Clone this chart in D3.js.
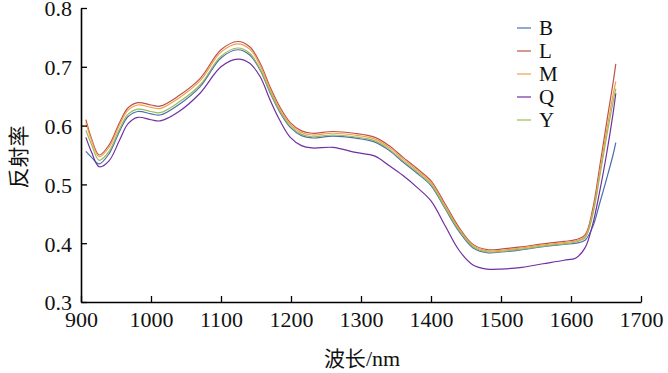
<!DOCTYPE html>
<html><head><meta charset="utf-8">
<script src="https://cdn.jsdelivr.net/npm/d3@7"></script>
<style>
html,body{margin:0;padding:0;background:#fff;}
svg{display:block;}
</style>
</head><body>
<svg id="chart" width="668" height="373"></svg>
<script>
const wavelengths = [907, 915, 926, 940, 955, 967, 981, 1000, 1013, 1040, 1070, 1100, 1124, 1141, 1156, 1170, 1184, 1199, 1215, 1230, 1260, 1290, 1320, 1340, 1360, 1380, 1400, 1420, 1440, 1460, 1480, 1500, 1530, 1560, 1590, 1607, 1620, 1631, 1641, 1651, 1660, 1664];
const seriesNames = ["B", "L", "M", "Q", "Y"];
const seriesColors = ["#4a6fb0", "#bb5249", "#f2a04e", "#7030a0", "#9bbb59"];
const valuesL = [0.610, 0.578, 0.550, 0.567, 0.605, 0.630, 0.639, 0.635, 0.633, 0.651, 0.680, 0.729, 0.743, 0.734, 0.706, 0.666, 0.632, 0.605, 0.591, 0.587, 0.590, 0.587, 0.580, 0.566, 0.546, 0.527, 0.506, 0.467, 0.427, 0.398, 0.389, 0.390, 0.394, 0.399, 0.403, 0.406, 0.414, 0.458, 0.530, 0.606, 0.672, 0.705];
const valuesM = [0.605, 0.575, 0.547, 0.563, 0.601, 0.626, 0.635, 0.631, 0.629, 0.647, 0.676, 0.725, 0.739, 0.730, 0.702, 0.662, 0.628, 0.602, 0.588, 0.584, 0.587, 0.584, 0.577, 0.563, 0.543, 0.524, 0.503, 0.464, 0.424, 0.396, 0.387, 0.388, 0.392, 0.397, 0.401, 0.404, 0.411, 0.452, 0.520, 0.592, 0.652, 0.675];
const valuesY = [0.592, 0.568, 0.541, 0.556, 0.594, 0.619, 0.628, 0.624, 0.622, 0.640, 0.669, 0.718, 0.732, 0.723, 0.696, 0.658, 0.625, 0.599, 0.585, 0.581, 0.584, 0.581, 0.574, 0.560, 0.540, 0.521, 0.500, 0.461, 0.422, 0.394, 0.385, 0.386, 0.390, 0.395, 0.399, 0.402, 0.409, 0.448, 0.513, 0.582, 0.640, 0.663];
const valuesB = [0.556, 0.546, 0.535, 0.552, 0.590, 0.615, 0.624, 0.620, 0.618, 0.636, 0.666, 0.715, 0.729, 0.720, 0.694, 0.656, 0.623, 0.597, 0.583, 0.579, 0.582, 0.579, 0.572, 0.558, 0.538, 0.519, 0.498, 0.459, 0.420, 0.392, 0.384, 0.385, 0.389, 0.394, 0.398, 0.400, 0.405, 0.428, 0.468, 0.510, 0.550, 0.571];
const valuesQ = [0.580, 0.555, 0.530, 0.540, 0.575, 0.603, 0.614, 0.610, 0.608, 0.624, 0.655, 0.700, 0.713, 0.706, 0.683, 0.644, 0.609, 0.580, 0.566, 0.562, 0.563, 0.555, 0.548, 0.532, 0.515, 0.495, 0.472, 0.430, 0.388, 0.363, 0.356, 0.356, 0.359, 0.365, 0.371, 0.375, 0.392, 0.432, 0.488, 0.553, 0.620, 0.655];
const xTicks = [900, 1000, 1100, 1200, 1300, 1400, 1500, 1600, 1700];
const yTicks = [0.3, 0.4, 0.5, 0.6, 0.7, 0.8];
const xTitleCJK = "波长";
const xTitleUnit = "/nm";
const yTitle = "反射率";

const seriesValues = {B: valuesB, L: valuesL, M: valuesM, Q: valuesQ, Y: valuesY};

const svg = d3.select("#chart");
const x = d3.scaleLinear().domain([900, 1700]).range([81, 641]);
const y = d3.scaleLinear().domain([0.3, 0.8]).range([302, 8]);
const serif = "'Liberation Serif','Times New Roman',serif";
const cjk = "'Noto Sans CJK SC', sans-serif";

const line = d3.line().x(d => x(d[0])).y(d => y(d[1])).curve(d3.curveCatmullRom.alpha(0.5));

seriesNames.forEach((name, i) => {
  const data = wavelengths.map((w, j) => [w, seriesValues[name][j]]);
  svg.append("path").datum(data)
    .attr("fill", "none").attr("stroke", seriesColors[i]).attr("stroke-width", 1.2)
    .attr("d", line);
});

// axes
const xAxis = d3.axisBottom(x).tickValues(xTicks).tickSizeInner(-6).tickSizeOuter(0).tickPadding(12).tickFormat(d3.format("d"));
const gx = svg.append("g").attr("transform", "translate(0,302)").call(xAxis);
gx.select(".domain").attr("stroke", "#000").attr("stroke-width", 1.6);
gx.selectAll(".tick line").attr("stroke", "#000").attr("stroke-width", 1.3);
gx.selectAll(".tick text").attr("font-family", serif).attr("font-size", 22).attr("fill", "#111").attr("dy", "0.6em");

const yAxis = d3.axisLeft(y).tickValues(yTicks).tickSizeInner(-6).tickSizeOuter(0).tickPadding(9).tickFormat(d3.format(".1f"));
const gy = svg.append("g").attr("transform", "translate(81,0)").call(yAxis);
gy.select(".domain").attr("stroke", "#000").attr("stroke-width", 1.6);
gy.selectAll(".tick line").attr("stroke", "#000").attr("stroke-width", 1.3);
gy.selectAll(".tick text").attr("font-family", serif).attr("font-size", 22).attr("fill", "#111").attr("dy", "0.36em");

// titles
const xt = svg.append("text").attr("x", 362).attr("y", 366).attr("text-anchor", "middle")
  .attr("font-size", 21).attr("fill", "#111");
xt.append("tspan").attr("font-family", cjk).text(xTitleCJK);
xt.append("tspan").attr("font-family", serif).attr("font-size", 22).text(xTitleUnit);
svg.append("text").attr("transform", "translate(26,157) rotate(-90)").attr("text-anchor", "middle")
  .attr("font-family", cjk).attr("font-size", 21).attr("fill", "#111").text(yTitle);

// legend
const lg = svg.append("g");
seriesNames.forEach((name, i) => {
  const yy = 28 + i * 23;
  lg.append("line").attr("x1", 517).attr("x2", 531).attr("y1", yy).attr("y2", yy)
    .attr("stroke", seriesColors[i]).attr("stroke-width", 1.2);
  lg.append("text").attr("x", 539).attr("y", yy).attr("dy", "0.35em")
    .attr("font-family", serif).attr("font-size", 21).attr("fill", "#111").text(name);
});
</script>
</body></html>
